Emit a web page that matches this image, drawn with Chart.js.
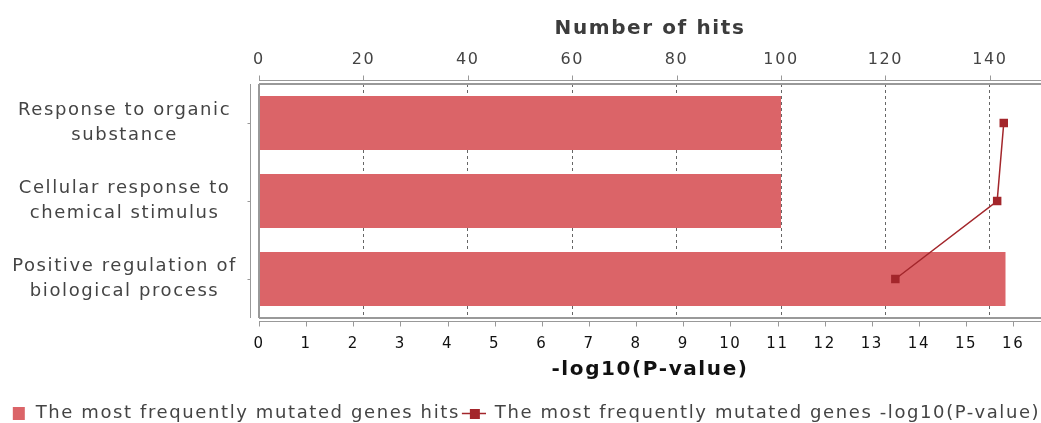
<!DOCTYPE html>
<html>
<head>
<meta charset="utf-8">
<script src="https://cdn.jsdelivr.net/npm/chart.js@4/dist/chart.umd.min.js"></script>
<style>
  body { margin: 0; background: #fff; }
</style>
</head>
<body>
<canvas id="chart" width="1041" height="423"></canvas>
<script>
// data
const categories = [
    ['Response to organic', 'substance'],
    ['Cellular response to', 'chemical stimulus'],
    ['Positive regulation of', 'biological process']
];
const hits = [100, 100, 143];
const negLogP = [15.8, 15.66, 13.5];
const hitsTicks = [0, 20, 40, 60, 80, 100, 120, 140];
const pTicks = [0, 1, 2, 3, 4, 5, 6, 7, 8, 9, 10, 11, 12, 13, 14, 15, 16];

const barColor = '#db6468';
const lineColor = '#a3262b';
const textColor = '#444';
const FONT = "'DejaVu Sans', sans-serif";

function barIcon() {
    const c = document.createElement('canvas');
    c.width = 26; c.height = 14;
    const g = c.getContext('2d');
    g.fillStyle = barColor;
    g.fillRect(12, 1, 12, 13);
    return c;
}

function lineIcon() {
    const c = document.createElement('canvas');
    c.width = 26; c.height = 14;
    const g = c.getContext('2d');
    g.strokeStyle = lineColor;
    g.lineWidth = 1.5;
    g.beginPath(); g.moveTo(2, 7.5); g.lineTo(26, 7.5); g.stroke();
    g.fillStyle = lineColor;
    g.fillRect(10, 3, 10, 10);
    return c;
}

// the reference text is set a bit wide
const spacing = {
    id: 'spacing',
    beforeUpdate(chart) { chart.ctx.letterSpacing = '1.6px'; },
    beforeDraw(chart) { chart.ctx.letterSpacing = '1.6px'; }
};

// legend row sits close to the bottom edge
const legendShift = {
    id: 'legendShift',
    afterLayout(chart) {
        chart.legend.top += 9;
        chart.legend.bottom += 9;
    }
};

// JFreeChart-like axis lines set off from the plot frame
const axisFrame = {
    id: 'axisFrame',
    afterDraw(chart) {
        const {ctx, chartArea: a, scales} = chart;
        ctx.save();
        ctx.strokeStyle = '#999';
        ctx.lineWidth = 1;
        function line(x1, y1, x2, y2) {
            ctx.beginPath(); ctx.moveTo(x1, y1); ctx.lineTo(x2, y2); ctx.stroke();
        }
        // top axis
        const yTop = a.top - 3.5;
        line(a.left, yTop, a.right, yTop);
        hitsTicks.forEach(v => {
            const x = Math.round(scales.xHits.getPixelForValue(v)) + 0.5;
            line(x, yTop - 5, x, yTop);
        });
        // bottom axis
        const yBot = a.bottom + 3.5;
        line(a.left, yBot, a.right, yBot);
        pTicks.forEach(v => {
            const x = Math.round(scales.xP.getPixelForValue(v)) + 0.5;
            line(x, yBot, x, yBot + 5);
        });
        // left axis
        const xl = a.left - 8.5;
        line(xl, a.top, xl, a.bottom);
        categories.forEach((c, i) => {
            const y = Math.round(scales.y.getPixelForValue(i)) + 0.5;
            line(xl - 3, y, xl, y);
        });
        // plot frame (right side runs off the picture)
        ctx.strokeStyle = '#999';
        ctx.lineWidth = 2;
        line(a.right + 5, a.top, a.left, a.top);
        line(a.left, a.top, a.left, a.bottom);
        line(a.left, a.bottom, a.right + 5, a.bottom);
        ctx.restore();
    }
};

new Chart(document.getElementById('chart'), {
    data: {
        labels: categories,
        datasets: [{
            type: 'bar',
            label: 'The most frequently mutated genes hits',
            data: hits,
            xAxisID: 'xHits',
            backgroundColor: barColor,
            borderWidth: 0,
            categoryPercentage: 1,
            barPercentage: 0.69,
            order: 2
        }, {
            type: 'line',
            label: 'The most frequently mutated genes -log10(P-value)',
            data: negLogP,
            xAxisID: 'xP',
            borderColor: lineColor,
            backgroundColor: lineColor,
            borderWidth: 1.5,
            pointStyle: 'rect',
            pointRadius: 6,
            pointBorderWidth: 0,
            order: 1
        }]
    },
    options: {
        indexAxis: 'y',
        responsive: false,
        animation: false,
        layout: { autoPadding: false, padding: 0 },
        scales: {
            y: {
                type: 'category',
                offset: true,
                grid: { display: false, drawTicks: false },
                border: { display: false },
                ticks: {
                    color: textColor,
                    font: { family: FONT, size: 18, lineHeight: 1.4 },
                    crossAlign: 'center',
                    padding: 22
                },
                afterFit(s) { s.width = 259; }
            },
            xHits: {
                type: 'linear',
                position: 'top',
                min: 0,
                max: 149.8,
                afterBuildTicks(s) { s.ticks = hitsTicks.map(v => ({value: v})); },
                grid: {
                    display: true,
                    drawTicks: false,
                    color: '#666',
                    lineWidth: 1
                },
                border: { display: false, dash: [3, 3] },
                ticks: {
                    color: textColor,
                    font: { family: FONT, size: 16 },
                    padding: 15
                },
                title: {
                    display: true,
                    text: 'Number of hits',
                    color: '#3c3c3c',
                    font: { family: FONT, size: 20, weight: 'bold' },
                    padding: { top: 17, bottom: 0 }
                },
                afterFit(s) { s.height = 84; s.paddingLeft = 0; s.paddingRight = 0; }
            },
            xP: {
                type: 'linear',
                position: 'bottom',
                min: 0,
                max: 16.59,
                afterBuildTicks(s) { s.ticks = pTicks.map(v => ({value: v})); },
                grid: { display: false, drawTicks: false },
                border: { display: false },
                ticks: {
                    color: '#111',
                    font: { family: FONT, size: 15 },
                    padding: 17,
                    maxRotation: 0,
                    autoSkip: false
                },
                title: {
                    display: true,
                    text: '-log10(P-value)',
                    color: '#111',
                    font: { family: FONT, size: 20, weight: 'bold' },
                    padding: { top: 0, bottom: 13 }
                },
                afterFit(s) { s.height = 77; s.paddingLeft = 0; s.paddingRight = 0; }
            }
        },
        plugins: {
            tooltip: { enabled: false },
            legend: {
                position: 'bottom',
                labels: {
                    color: textColor,
                    font: { family: FONT, size: 18 },
                    usePointStyle: true,
                    pointStyleWidth: 26,
                    padding: 0,
                    generateLabels(chart) {
                        return chart.data.datasets.map((d, i) => ({
                            text: d.label,
                            pointStyle: i === 0 ? barIcon() : lineIcon(),
                            fillStyle: i === 0 ? barColor : lineColor,
                            strokeStyle: 'transparent',
                            lineWidth: 0,
                            hidden: false,
                            datasetIndex: i,
                            fontColor: textColor
                        }));
                    }
                }
            }
        }
    },
    plugins: [spacing, legendShift, axisFrame]
});
</script>
</body>
</html>
